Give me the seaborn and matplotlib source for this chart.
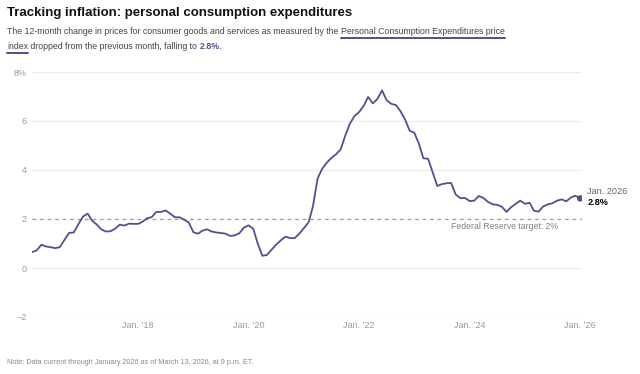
import numpy as np
import pandas as pd
import matplotlib
matplotlib.use("Agg")
import matplotlib.pyplot as plt
import seaborn as sns

# --- Data: PCE price index, 12-month % change, Feb 2016 - Jan 2026 ---
START_MONTH = "2016-02-01"
pce_yoy = [
    0.65, 0.72, 0.95, 0.88, 0.85, 0.81, 0.85, 1.15, 1.43, 1.45, 1.78,   # 2016
    2.10, 2.22, 1.94, 1.78, 1.58, 1.49, 1.50, 1.60, 1.77, 1.73, 1.81, 1.80,  # 2017
    1.80, 1.90, 2.03, 2.08, 2.29, 2.29, 2.35, 2.22, 2.07, 2.07, 1.97, 1.86,  # 2018
    1.46, 1.40, 1.52, 1.58, 1.49, 1.45, 1.43, 1.40, 1.31, 1.33, 1.42, 1.65,  # 2019
    1.74, 1.60, 1.00, 0.50, 0.53, 0.75, 0.95, 1.13, 1.28, 1.22, 1.22, 1.40,  # 2020
    1.63, 1.87, 2.51, 3.65, 4.05, 4.30, 4.49, 4.64, 4.85, 5.40, 5.90, 6.20,  # 2021
    6.37, 6.63, 6.98, 6.72, 6.90, 7.25, 6.85, 6.70, 6.65, 6.40, 6.05, 5.60,  # 2022
    5.52, 5.05, 4.48, 4.46, 3.92, 3.35, 3.42, 3.46, 3.47, 3.00, 2.85, 2.86,  # 2023
    2.73, 2.75, 2.94, 2.86, 2.70, 2.60, 2.58, 2.50, 2.29, 2.48, 2.62, 2.75,  # 2024
    2.62, 2.66, 2.34, 2.30, 2.51, 2.60, 2.64, 2.75, 2.80, 2.72, 2.88, 2.95,  # 2025
    2.84,                                                                    # 2026
]
tick_dates = ["2018-01-01", "2020-01-01", "2022-01-01", "2024-01-01", "2026-01-01"]
tick_labels = ["Jan. \u201918", "Jan. \u201920", "Jan. \u201922", "Jan. \u201924", "Jan. \u201926"]
y_ticks = [-2, 0, 2, 4, 6, 8]
y_tick_labels = ["\u22122", "0", "2", "4", "6", "8%"]
fed_target = 2.0

PURPLE = "#5e4a8c"
GRID = "#ececec"
TICK = "#9a9a9a"

df = pd.DataFrame({
    "date": pd.date_range(START_MONTH, periods=len(pce_yoy), freq="MS"),
    "pce": pce_yoy,
})

sns.set_theme(style="white")
plt.rcParams["font.family"] = ["Liberation Sans", "DejaVu Sans"]

fig = plt.figure(figsize=(6.4, 3.74), dpi=100)
fig.patch.set_facecolor("white")
ax = fig.add_axes([32 / 640, 1 - 317 / 374, (582 - 32) / 640, (317 - 72) / 374])

for y in y_ticks:
    if y != fed_target:
        ax.axhline(y, color=GRID, lw=0.8, zorder=0)
ax.axhline(fed_target, color="#9c9c9c", lw=0.9, ls=(0, (3, 3)), zorder=1)

sns.lineplot(data=df, x="date", y="pce", ax=ax, color=PURPLE, lw=1.3, zorder=3)
last = df.iloc[-1]
ax.scatter([last["date"]], [last["pce"]], s=22, color=PURPLE, zorder=4, edgecolor="none")

ax.set_ylim(-2, 8)
ax.set_xlim(df["date"].iloc[0] - pd.Timedelta(days=2), df["date"].iloc[-1] + pd.Timedelta(days=12))
ax.set_yticks(y_ticks)
ax.set_yticklabels(y_tick_labels)
ax.set_xticks(pd.to_datetime(tick_dates))
ax.set_xticklabels(tick_labels)
ax.tick_params(axis="both", length=0, labelsize=6.5, colors=TICK, pad=3)
ax.tick_params(axis="y", pad=4)
for s in ax.spines.values():
    s.set_visible(False)
ax.set_xlabel("")
ax.set_ylabel("")
ax.patch.set_alpha(0)

# annotations
ax.annotate("Jan. 2026", xy=(last["date"], last["pce"]), xytext=(5, 1.5),
            textcoords="offset points", fontsize=6.6, color="#666666", va="bottom", ha="left")
ax.annotate("2.8%", xy=(last["date"], last["pce"]), xytext=(5, 0.5),
            textcoords="offset points", fontsize=6.6, color="black", fontweight="bold",
            va="top", ha="left")
ax.text(pd.Timestamp("2024-08-20"), 1.7, "Federal Reserve target: 2%", fontsize=6.3,
        color="#808080", ha="center", va="center")

# header
fig.text(7 / 640, 1 - 13 / 374, "Tracking inflation: personal consumption expenditures",
         fontsize=9.5, fontweight="bold", color="#111111", va="center")

fig.canvas.draw()
renderer = fig.canvas.get_renderer()
SUB_SIZE = 6.35
SUB_COLOR = "#444444"


def put(x_px, y_px, s, **kw):
    kw.setdefault("color", SUB_COLOR)
    t = fig.text(x_px / 640, 1 - y_px / 374, s, fontsize=SUB_SIZE, va="baseline", **kw)
    bb = t.get_window_extent(renderer)
    return bb


def underline(bb, y_px):
    fig.add_artist(plt.Line2D([bb.x0 / 640, bb.x1 / 640], [1 - y_px / 374] * 2,
                              color=PURPLE, lw=1.4, transform=fig.transFigure))


bb = put(7, 34, "The 12-month change in prices for consumer goods and services as measured by the ")
bb = put(bb.x1, 34, "Personal Consumption Expenditures price")
underline(bb, 37.5)
bb = put(7, 49, "index")
underline(bb, 52.5)
bb = put(bb.x1, 49, " dropped from the previous month, falling to ")
bb = put(bb.x1, 49, "2.8%", color=PURPLE, fontweight="bold")
put(bb.x1 - 1, 49, ".")

fig.text(7 / 640, 1 - 363 / 374,
         "Note: Data current through January 2026 as of March 13, 2026, at 9 p.m. ET.",
         fontsize=5.2, color="#888888", va="center")

fig.savefig("out.png", dpi=100, facecolor="white")
